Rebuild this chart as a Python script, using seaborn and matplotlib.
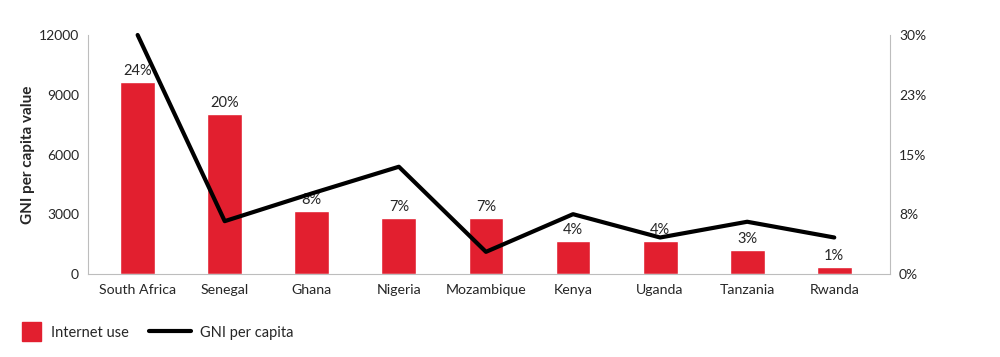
import numpy as np
import matplotlib
matplotlib.use('Agg')
import matplotlib.pyplot as plt
import seaborn as sns
from matplotlib.patches import Patch, Rectangle
from matplotlib.lines import Line2D
from matplotlib.legend_handler import HandlerPatch

sns.set_style('white')
plt.rcParams['font.family'] = ['Lato', 'DejaVu Sans']

# data
COUNTRIES = ['South Africa', 'Senegal', 'Ghana', 'Nigeria', 'Mozambique',
             'Kenya', 'Uganda', 'Tanzania', 'Rwanda']
INTERNET_USE = [24.1, 20.1, 7.9, 7.1, 7.1, 4.2, 4.2, 3.0, 0.9]   # %
GNI_PER_CAPITA = [12000, 2660, 4050, 5390, 1120, 3010, 1840, 2630, 1840]

GNI_TICKS = [0, 3000, 6000, 9000, 12000]
PCT_TICKS = [0, 7.5, 15, 22.5, 30]
PCT_LABELS = ['0%', '8%', '15%', '23%', '30%']

RED = '#E21F2F'
GREY = '#BDBDBD'


class SquareHandler(HandlerPatch):
    """红色方块图例"""
    def create_artists(self, legend, orig_handle, xdescent, ydescent,
                       width, height, fontsize, trans):
        side = height * 1.35
        p = Rectangle((-xdescent, -ydescent + (height - side) / 2), side, side,
                      facecolor=RED, edgecolor=RED, transform=trans)
        return [p]


fig = plt.figure(figsize=(10, 3.57), dpi=100)
ax = fig.add_axes([0.088, 0.232, 0.802, 0.670])

# bars: internet use (right axis scale)
sns.barplot(x=COUNTRIES, y=INTERNET_USE, color=RED, width=0.4,
            saturation=1, ax=ax, zorder=2)
for i, v in enumerate(INTERNET_USE):
    ax.text(i, v + 0.5, f'{v:.0f}%', ha='center', va='bottom', fontsize=10.5)
ax.set_xlim(-0.57, 8.64)

# line: GNI per capita (left axis scale)
ax2 = ax.twinx()
sns.lineplot(x=np.arange(len(COUNTRIES)), y=GNI_PER_CAPITA, color='black',
             linewidth=3, ax=ax2, clip_on=False)
ax2.set_xlim(-0.57, 8.64)

# bars axis -> ticks on the right, line axis -> ticks on the left
ax.set_ylim(0, 30)
ax.set_yticks(PCT_TICKS)
ax.set_yticklabels(PCT_LABELS)
ax.yaxis.tick_right()
ax.set_ylabel('')

ax2.set_ylim(0, 12000)
ax2.set_yticks(GNI_TICKS)
ax2.set_yticklabels([str(t) for t in GNI_TICKS])
ax2.yaxis.tick_left()
ax2.yaxis.set_label_position('left')
ax2.set_ylabel('GNI per capita value', fontsize=11, fontweight='bold', labelpad=3)

for a in (ax, ax2):
    for s in a.spines.values():
        s.set_visible(False)
    a.tick_params(length=0, labelsize=10, pad=6.5)
    a.set_xlabel('')
ax.tick_params(axis='x', pad=7, labelsize=10.2)
ax.spines['bottom'].set_visible(True)
ax.spines['bottom'].set_color(GREY)
ax.spines['right'].set_visible(True)
ax.spines['right'].set_color(GREY)
ax2.spines['left'].set_visible(True)
ax2.spines['left'].set_color(GREY)

# 图例: 两个独立图例, 各自的句柄长度
leg1 = fig.legend(handles=[Patch(facecolor=RED, edgecolor=RED, label='Internet use')],
                  loc='lower left', bbox_to_anchor=(0.009, 0.012), frameon=False,
                  fontsize=10.5, handlelength=1.45, handleheight=1.1,
                  handletextpad=0.5, handler_map={Patch: SquareHandler()})
leg2 = fig.legend(handles=[Line2D([0], [0], color='black', lw=3, label='GNI per capita')],
                  loc='lower left', bbox_to_anchor=(0.136, 0.012), frameon=False,
                  fontsize=10.5, handlelength=2.9, handleheight=1.1,
                  handletextpad=0.6)

fig.savefig('out.png', dpi=100)
